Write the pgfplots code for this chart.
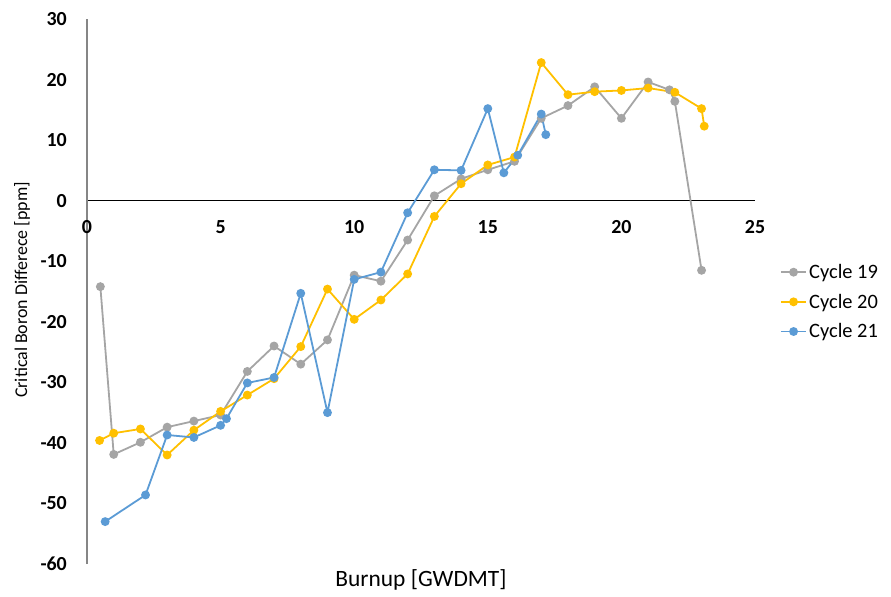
\documentclass[border=0pt]{standalone}
\usepackage{fontspec}
\setmainfont{Carlito}
\usepackage{pgfplots}
\pgfplotsset{compat=1.18}
\definecolor{cgray}{HTML}{A5A5A5}
\definecolor{cyellow}{HTML}{FFC000}
\definecolor{cblue}{HTML}{5B9BD5}
\definecolor{axgray}{HTML}{868686}
\begin{document}
\begin{tikzpicture}
\useasboundingbox (0,0) rectangle (891bp,597bp);
\begin{axis}[
  at={(87bp,33bp)}, anchor=south west,
  scale only axis, width=668bp, height=545bp,
  xmin=0, xmax=25, ymin=-60, ymax=30,
  axis x line=middle, axis y line=left,
  x axis line style={-, black, line width=0.8bp},
  y axis line style={-, axgray, line width=1.3bp},
  hide obscured x ticks=false, hide obscured y ticks=false,
  major tick length=0pt,
  xtick={0,5,10,15,20,25}, xticklabels={0,5,10,15,20,25},
  ytick={-60,-50,-40,-30,-20,-10,0,10,20,30},
  yticklabels={-60,-50,-40,-30,-20,-10,0,10,20,30},
  xticklabel style={anchor=north, inner sep=0pt, yshift=-20bp, font=\fontsize{20}{24}\selectfont\bfseries},
  yticklabel style={anchor=east, inner sep=0pt, xshift=-20bp, font=\fontsize{20}{24}\selectfont\bfseries},
  xlabel={Burnup [GWDMT]},
  ylabel={Critical Boron Differece [ppm]},
  xlabel style={at={(axis description cs:0.5,-0.029)}, anchor=center, font=\fontsize{23.5}{27}\selectfont},
  ylabel style={at={(axis description cs:-0.097,0.503)}, anchor=center, font=\fontsize{18}{21}\selectfont},
  clip=false,
  every axis plot/.append style={line width=1.8bp, mark=*, mark size=3.5bp},
  legend style={at={(1.037,0.481)}, anchor=west, draw=none, fill=none,
    font=\fontsize{20.5}{24}\selectfont, row sep=10bp, inner sep=0pt},
  legend cell align=left,
  legend image code/.code={\draw[#1, line width=1.8bp, mark repeat=2, mark phase=2, mark size=3.5bp] plot coordinates {(0cm,0cm) (0.45cm,0cm) (0.9cm,0cm)};},
]
\addplot[color=cgray, mark options={fill=cgray, draw=cgray}] coordinates {
(0.5,-14.2) (1,-41.9) (2,-39.9) (3,-37.4) (4,-36.4) (5,-35.4) (6,-28.2) (7,-24.0)
(8,-27.0) (9,-23.0) (10,-12.3) (11,-13.3) (12,-6.5) (13,0.8) (14,3.6) (15,5.1)
(16,6.5) (17,13.6) (18,15.7) (19,18.8) (20,13.6) (21,19.6) (21.8,18.3) (22,16.4) (23,-11.5)
};
\addlegendentry{Cycle 19}
\addplot[color=cyellow, mark options={fill=cyellow, draw=cyellow}] coordinates {
(0.47,-39.6) (1,-38.4) (2,-37.7) (3,-42.0) (4,-37.9) (5,-34.8) (6,-32.1) (7,-29.4)
(8,-24.1) (9,-14.6) (10,-19.6) (11,-16.4) (12,-12.1) (13,-2.6) (14,2.8) (15,5.9)
(16,7.2) (17,22.8) (18,17.5) (19,18.0) (20,18.2) (21,18.6) (22,17.9) (23,15.2) (23.1,12.3)
};
\addlegendentry{Cycle 20}
\addplot[color=cblue, mark options={fill=cblue, draw=cblue}] coordinates {
(0.68,-53.0) (2.19,-48.6) (3,-38.7) (4,-39.1) (5,-37.1) (5.22,-36.0) (6,-30.1) (7,-29.2)
(8,-15.3) (9,-35.0) (10,-13.0) (11,-11.8) (12,-2.0) (13,5.1) (14,5.0) (15,15.2)
(15.6,4.6) (16.12,7.5) (17,14.3) (17.17,10.9)
};
\addlegendentry{Cycle 21}
\end{axis}
\end{tikzpicture}
\end{document}
